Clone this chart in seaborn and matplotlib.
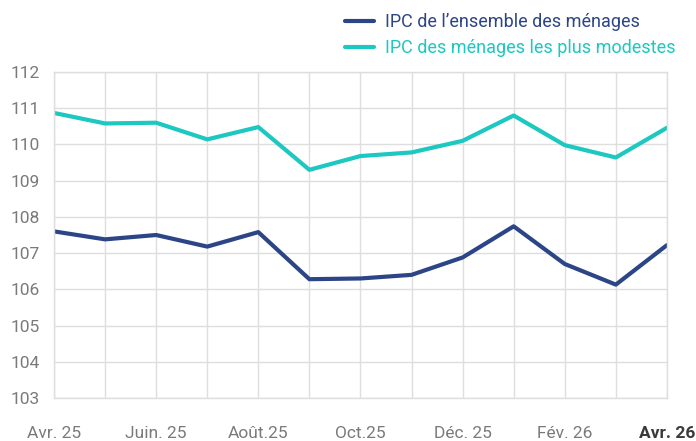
import pandas as pd
import matplotlib.pyplot as plt
import seaborn as sns

months = ['Avr. 25', 'Mai 25', 'Juin. 25', 'Juil. 25', 'Août.25', 'Sep. 25',
          'Oct.25', 'Nov. 25', 'Déc. 25', 'Jan. 26', 'Fév. 26', 'Mars 26',
          'Avr. 26']
ipc_ensemble = [107.6, 107.38, 107.5, 107.18, 107.58, 106.28, 106.3,
                106.4, 106.88, 107.74, 106.7, 106.13, 107.22]
ipc_modestes = [110.87, 110.58, 110.6, 110.14, 110.48, 109.3, 109.68,
                109.78, 110.1, 110.8, 109.98, 109.64, 110.46]
shown_ticks = [0, 2, 4, 6, 8, 10, 12]
y_ticks = list(range(103, 113))

dark = '#2c4587'
teal = '#1cc8bf'
grey_txt = '#7a7a7a'

sns.set_theme(style='white')
plt.rcParams['font.family'] = ['Roboto', 'DejaVu Sans']

df = pd.DataFrame({
    'mois': list(range(len(months))) * 2,
    'valeur': ipc_ensemble + ipc_modestes,
    'serie': ['IPC de l\u2019ensemble des ménages'] * len(months)
    + ['IPC des ménages les plus modestes'] * len(months),
})

fig = plt.figure(figsize=(6.96, 4.41), dpi=100)
ax = fig.add_axes([0.0776, 0.0975, 0.8806, 0.7392])
sns.lineplot(data=df, x='mois', y='valeur', hue='serie',
             palette=[dark, teal], linewidth=3.0, ax=ax, legend=True)

ax.set_xlim(0, 12)
ax.set_ylim(103, 112)
ax.set_xticks(range(len(months)))
ax.set_xticklabels([months[i] if i in shown_ticks else '' for i in range(len(months))])
ax.set_yticks(y_ticks)
ax.grid(True, color='#dedede', linewidth=1.0)
ax.set_axisbelow(True)
for s in ax.spines.values():
    s.set_color('#dedede')
    s.set_linewidth(1.0)
ax.tick_params(axis='x', length=0, pad=20, labelsize=12.5, colors=grey_txt)
ax.tick_params(axis='y', length=0, pad=10, labelsize=12.5, colors=grey_txt)
last = ax.get_xticklabels()[-1]
last.set_fontweight('bold')
last.set_color('#3a3a3a')
ax.set_xlabel('')
ax.set_ylabel('')

leg = ax.legend(loc='lower left', bbox_to_anchor=(0.457, 1.012), frameon=False,
                fontsize=13, handlelength=1.6, handletextpad=0.6,
                labelspacing=0.45, borderaxespad=0.2)
for txt, c in zip(leg.get_texts(), [dark, teal]):
    txt.set_color(c)

fig.savefig('out.png', dpi=100)
